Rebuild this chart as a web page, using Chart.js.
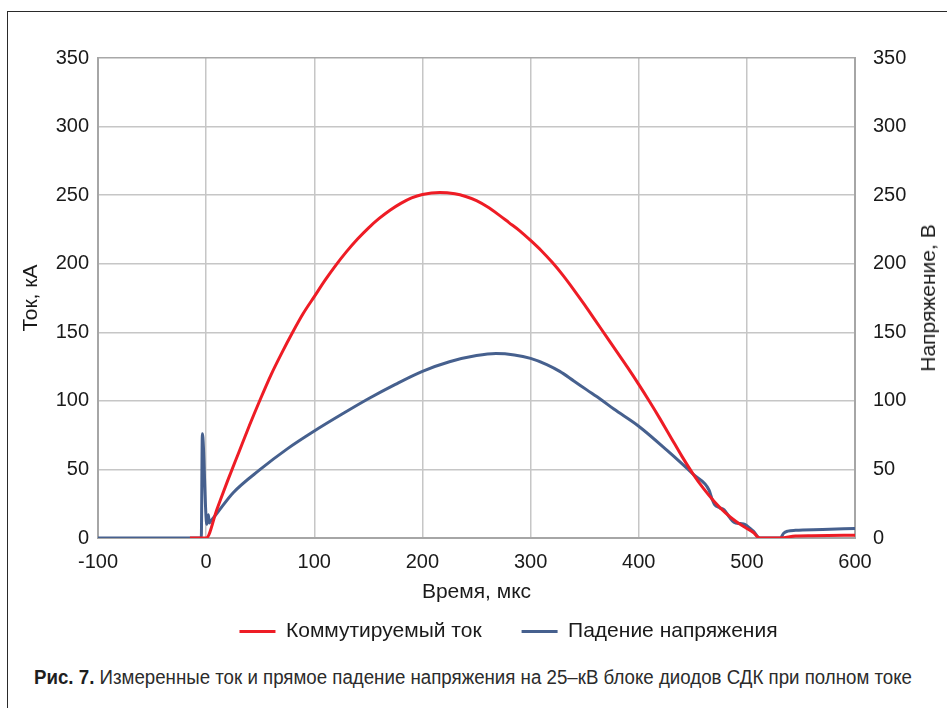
<!DOCTYPE html>
<html>
<head>
<meta charset="utf-8">
<script src="https://cdn.jsdelivr.net/npm/chart.js@4/dist/chart.umd.min.js"></script>
<style>
  html, body { margin: 0; padding: 0; background: #fff; }
  body { width: 947px; height: 708px; position: relative; overflow: hidden; font-family: "Liberation Sans", Arial, sans-serif; }
  #frame { position: absolute; left: 7px; top: 11px; width: 960px; height: 720px; border-left: 1.5px solid #2a2a2a; border-top: 1.5px solid #2a2a2a; }
  #wrap { position: absolute; left: 0; top: 0; width: 947px; height: 652px; }
  #rightTitle { position: absolute; left: 928px; top: 298px; transform: translate(-50%, -50%) rotate(-90deg); white-space: nowrap; font-size: 21px; color: #1a1a1a; }
  #caption { position: absolute; left: 34px; top: 666px; white-space: nowrap; font-size: 20px; color: #2b2b2b; transform-origin: 0 0; }
  #caption b { color: #1e1e1e; }
</style>
</head>
<body>
<div id="frame"></div>
<div id="wrap"><canvas id="chart"></canvas></div>
<div id="rightTitle">Напряжение, В</div>
<div id="caption"><b>Рис. 7.</b> Измеренные ток и прямое падение напряжения на 25–кВ блоке диодов СДК при полном токе</div>
<script>
document.addEventListener("DOMContentLoaded", function () {
  // время, мкс и коммутируемый ток, кА
  var timeCurrent = [-15, 0, 10, 20, 30, 40, 50, 60, 70, 80, 90, 100, 110, 120, 130, 140, 150, 160, 170, 180, 190, 200, 216, 230, 240, 250, 260, 270, 280, 290, 300, 310, 320, 330, 340, 350, 360, 370, 380, 390, 400, 410, 420, 430, 440, 450, 460, 470, 480, 490, 500, 506, 512, 531, 545, 560, 600];
  var current = [0, 0, 21, 42, 62, 82, 101, 119, 135, 150, 164, 176, 188, 199, 209, 218, 226, 233, 239, 244, 248, 250.5, 252, 251, 249, 246, 241.5, 236, 230, 224, 217, 209.5, 201, 191.5, 181, 170, 158.5, 147, 135.5, 124, 112, 99.5, 86.5, 73, 59.5, 47, 36, 26.5, 18.5, 12, 7, 4, 0, 0, 1.5, 1.7, 2];

  // время, мкс и падение напряжения, В
  var timeVoltage = [-100, -4.5, -3.5, 0.6, 2, 3, 4, 10, 25, 50, 75, 100, 125, 150, 175, 200, 225, 250, 268, 285, 300, 315, 327, 340, 352, 365, 377, 400, 426, 451, 465, 468, 470, 475, 479, 484, 488, 494, 498, 503, 506, 512, 531, 534, 538, 545, 570, 600];
  var voltage = [0, 0, 76, 10, 17, 11, 12, 18, 33, 50, 65, 78, 90, 101.5, 112, 121.5, 128.5, 133, 134.5, 133.5, 131, 126.5, 121.5, 114.5, 108, 101, 94, 81.5, 64, 46, 35, 28, 24.5, 22, 20.5, 15, 11.5, 10.5, 10, 7, 5, 0, 0, 3.5, 5, 5.6, 6.2, 7];

  var xTicks = [-100, 0, 100, 200, 300, 400, 500, 600];
  var yTicks = [0, 50, 100, 150, 200, 250, 300, 350];

  function toPoints(xs, ys) {
    return xs.map(function (x, i) {
      return { x: x, y: ys[i] };
    });
  }

  var tickFont = { family: "'Liberation Sans', Arial, sans-serif", size: 20 };
  var titleFont = { family: "'Liberation Sans', Arial, sans-serif", size: 21 };
  var gridColor = function (c) {
    return c.tick && c.tick.value === 350 ? "#a8a8a8" : "#c6c6c6";
  };

  // легенда в оригинале сдвинута вправо
  var legendShift = {
    id: "legendShift",
    afterLayout: function (chart) {
      chart.legend.left += 35;
      chart.legend.right += 35;
    },
  };

  var ctx = document.getElementById("chart").getContext("2d");
  new Chart(ctx, {
    type: "line",
    data: {
      datasets: [
        {
          label: "Коммутируемый ток",
          data: toPoints(timeCurrent, current),
          borderColor: "#ee1c25",
          backgroundColor: "#ee1c25",
          borderWidth: 3,
          pointRadius: 0,
          cubicInterpolationMode: "monotone",
          yAxisID: "y",
        },
        {
          label: "Падение напряжения",
          data: toPoints(timeVoltage, voltage),
          borderColor: "#46608e",
          backgroundColor: "#46608e",
          borderWidth: 3,
          pointRadius: 0,
          cubicInterpolationMode: "monotone",
          yAxisID: "y1",
        },
      ],
    },
    plugins: [legendShift],
    options: {
      responsive: true,
      maintainAspectRatio: false,
      animation: false,
      layout: { padding: { top: 58, left: 0, right: 0, bottom: 0 } },
      plugins: {
        tooltip: { enabled: false },
        legend: {
          position: "bottom",
          labels: {
            usePointStyle: true,
            pointStyle: "line",
            pointStyleWidth: 36,
            padding: 40,
            color: "#1a1a1a",
            font: titleFont,
          },
        },
      },
      scales: {
        x: {
          type: "linear",
          min: -100,
          max: 600,
          afterBuildTicks: function (s) {
            s.ticks = xTicks.map(function (v) { return { value: v }; });
          },
          afterFit: function (s) { s.height = 43; },
          ticks: { color: "#1a1a1a", font: tickFont, padding: 12, maxRotation: 0 },
          grid: { color: "#c6c6c6", lineWidth: 1.5, drawTicks: false },
          border: { color: "#a6a6a6", width: 2 },
          title: { display: true, text: "Время, мкс", color: "#1a1a1a", font: titleFont, padding: { top: 0, bottom: -24 } },
        },
        y: {
          position: "left",
          min: 0,
          max: 350,
          afterBuildTicks: function (s) {
            s.ticks = yTicks.map(function (v) { return { value: v }; });
          },
          afterFit: function (s) { s.width = 98; },
          ticks: { color: "#1a1a1a", font: tickFont, padding: 9 },
          grid: { color: gridColor, lineWidth: 1.5, drawTicks: false },
          border: { color: "#a6a6a6", width: 2 },
          title: { display: true, text: "Ток, кА", color: "#1a1a1a", font: titleFont, padding: { top: 19, bottom: 0 } },
        },
        y1: {
          position: "right",
          min: 0,
          max: 350,
          afterBuildTicks: function (s) {
            s.ticks = yTicks.map(function (v) { return { value: v }; });
          },
          afterFit: function (s) { s.width = 92; },
          ticks: { color: "#1a1a1a", font: tickFont, padding: 18 },
          grid: { drawOnChartArea: false, drawTicks: false },
          border: { color: "#a6a6a6", width: 2 },
        },
      },
    },
  });

  // подгонка ширины подписи
  var cap = document.getElementById("caption");
  var w = cap.getBoundingClientRect().width;
  cap.style.transform = "scaleX(" + (878 / w) + ")";
});
</script>
</body>
</html>
